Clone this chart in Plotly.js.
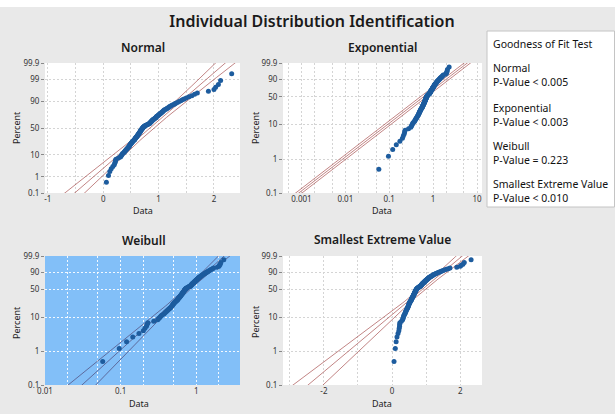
<!DOCTYPE html>
<html><head><meta charset="utf-8">
<script src="https://cdn.plot.ly/plotly-3.0.1.min.js"></script>
<style>html,body{margin:0;padding:0;background:#fff}#chart{width:615px;height:414px}</style>
</head><body><div id="chart"></div>
<script>
// ---- data (sorted sample) ----
const sampleData = [
 0.058,0.096,0.12,0.145,0.175,0.20,0.21,0.22,0.225,0.23,
 0.275,0.31,0.32,0.33,0.34,0.35,0.37,0.38,0.39,0.40,
 0.41,0.42,0.43,0.44,0.45,0.46,0.465,
 0.475,0.48,0.485,0.49,0.50,0.505,0.51,0.52,0.525,0.53,0.54,0.55,0.56,
 0.565,0.57,0.575,0.58,0.585,0.59,0.60,0.605,0.61,0.615,0.62,
 0.625,0.63,0.635,0.64,0.645,0.65,0.655,0.66,0.665,0.67,0.672,0.676,0.68,
 0.685,0.69,0.695,0.70,0.705,0.71,0.715,0.72,0.725,0.732,0.74,
 0.75,0.76,0.775,0.79,0.80,0.815,0.83,
 0.84,0.845,0.85,0.86,0.865,0.87,0.88,0.885,0.89,0.90,0.91,0.92,
 0.93,0.94,0.95,0.955,0.96,0.97,0.98,0.99,1.0,1.01,
 1.02,1.03,1.04,1.05,1.06,1.07,1.08,1.09,1.10,
 1.12,1.14,1.15,1.17,1.19,1.20,1.22,
 1.24,1.27,1.29,1.31,1.34,
 1.37,1.40,1.43,1.46,
 1.50,1.55,1.60,1.65,1.70,
 1.90,2.0,2.03,2.08,2.12,2.32
];
const percentTicksNormal = [0.1,1,10,50,90,99,99.9];
const percentTicksOther  = [0.1,1,10,50,90,99.9];
const normalTickX = [-1,0,1,2];
const expTickX = [0.001,0.01,0.1,1,10];
const weibullTickX = [0.01,0.1,1];
const sevTickX = [-2,0,2];
// fitted parameters
const normalFit = {mu:0.845, sigma:0.44};
const expFit = {theta:0.87};
const weibullFit = {shape:2.04, scale:0.91};
const sevFit = {loc:1.07, scale:0.512};
const plotTitles = ['Normal','Exponential','Weibull','Smallest Extreme Value'];
const gofHeader = 'Goodness of Fit Test';
const gofNames = ['Normal','Exponential','Weibull','Smallest Extreme Value'];
const gofPValues = ['P-Value < 0.005','P-Value < 0.003','P-Value = 0.223','P-Value < 0.010'];
const mainTitle = 'Individual Distribution Identification';

// ---- scale transforms ----
function qnorm(p){
 const a=[-3.969683028665376e+01,2.209460984245205e+02,-2.759285104469687e+02,1.383577518672690e+02,-3.066479806614716e+01,2.506628277459239e+00];
 const b=[-5.447609879822406e+01,1.615858368580409e+02,-1.556989798598866e+02,6.680131188771972e+01,-1.328068155288572e+01];
 const c=[-7.784894002430293e-03,-3.223964580411365e-01,-2.400758277161838e+00,-2.549732539343734e+00,4.374664141464968e+00,2.938163982698783e+00];
 const d=[7.784695709041462e-03,3.224671290700398e-01,2.445134137142996e+00,3.754408661907416e+00];
 const pl=0.02425, ph=1-pl; let q,r;
 if(p<pl){q=Math.sqrt(-2*Math.log(p));return (((((c[0]*q+c[1])*q+c[2])*q+c[3])*q+c[4])*q+c[5])/((((d[0]*q+d[1])*q+d[2])*q+d[3])*q+1);}
 if(p>ph){q=Math.sqrt(-2*Math.log(1-p));return -(((((c[0]*q+c[1])*q+c[2])*q+c[3])*q+c[4])*q+c[5])/((((d[0]*q+d[1])*q+d[2])*q+d[3])*q+1);}
 q=p-0.5;r=q*q;return (((((a[0]*r+a[1])*r+a[2])*r+a[3])*r+a[4])*r+a[5])*q/(((((b[0]*r+b[1])*r+b[2])*r+b[3])*r+b[4])*r+1);
}
const wq = p => Math.log(-Math.log(1-p));

const n = sampleData.length;
const pos = sampleData.map((v,i)=>(i+1-0.3)/(n+0.4));
const yNorm = pos.map(qnorm);
const yW = pos.map(wq);

const W=615,H=414;
const px = v=>v/W, py = v=>1-v/H;
const FONT = 'Noto Sans, Open Sans, sans-serif';
const lineCol = '#a85050', lineColW = '#4e4676';
const markerCol = '#1d5c9e';

const zs=[], ws=[];
for(let z=-3.5; z<=3.5001; z+=0.1) zs.push(z);
for(let y=-7.4; y<=2.4001; y+=0.1) ws.push(y);

const traces=[];
function addLines(xs3, ys, xa, ya, col){
 xs3.forEach(xs=>traces.push({x:xs,y:ys,xaxis:xa,yaxis:ya,mode:'lines',type:'scatter',line:{color:col,width:0.7},hoverinfo:'skip'}));
}
// Normal
{
 const {mu,sigma}=normalFit;
 const fit=zs.map(z=>mu+sigma*z);
 const hw=zs.map(z=>1.96*sigma*Math.sqrt(1/n+z*z/(2*n)));
 addLines([fit, fit.map((v,i)=>v-hw[i]), fit.map((v,i)=>v+hw[i])], zs,'x','y',lineCol);
 traces.push({x:sampleData,y:yNorm,xaxis:'x',yaxis:'y',mode:'markers',type:'scatter',marker:{color:markerCol,size:5}});
}
// Exponential
{
 const {theta}=expFit; const h=1.96/Math.sqrt(n);
 const lf=ws.map(y=>Math.log(theta)+y);
 addLines([lf.map(Math.exp), lf.map(v=>Math.exp(v-h)), lf.map(v=>Math.exp(v+h))], ws,'x2','y2',lineCol);
 traces.push({x:sampleData,y:yW,xaxis:'x2',yaxis:'y2',mode:'markers',type:'scatter',marker:{color:markerCol,size:5}});
}
// Weibull
{
 const bb=1/weibullFit.shape, u=Math.log(weibullFit.scale);
 const lf=ws.map(y=>u+bb*y);
 const hw=ws.map(y=>1.96*bb/Math.sqrt(n)*Math.sqrt(1.1087+2*0.2570*y+0.6079*y*y));
 addLines([lf.map(Math.exp), lf.map((v,i)=>Math.exp(v-hw[i])), lf.map((v,i)=>Math.exp(v+hw[i]))], ws,'x3','y3',lineColW);
 traces.push({x:sampleData,y:yW,xaxis:'x3',yaxis:'y3',mode:'markers',type:'scatter',marker:{color:markerCol,size:5}});
}
// SEV
{
 const {loc,scale}=sevFit;
 const fit=ws.map(y=>loc+scale*y);
 const hw=ws.map(y=>1.96*scale/Math.sqrt(n)*Math.sqrt(1.1087+2*0.2570*y+0.6079*y*y));
 addLines([fit, fit.map((v,i)=>v-hw[i]), fit.map((v,i)=>v+hw[i])], ws,'x4','y4',lineCol);
 traces.push({x:sampleData,y:yW,xaxis:'x4',yaxis:'y4',mode:'markers',type:'scatter',marker:{color:markerCol,size:5}});
}

const tickFont={family:FONT,size:8,color:'#333'};
const gridCol='#d4d4d4', gridW='rgba(255,255,255,0.9)';
const DASH='2px,2px';
function yax(dom, ticks, f, anchor, grid){
 const inner=ticks.filter(t=>t>0.1&&t<99.9);
 return {domain:dom, anchor:anchor, range:[f(0.001),f(0.999)], tickmode:'array',
  tickvals:ticks.map(t=>f(t/100)), ticktext:ticks.map(String), tickfont:tickFont,
  ticks:'outside', ticklen:3, tickcolor:'#888', showgrid:false,
  minor:{tickmode:'array',tickvals:inner.map(t=>f(t/100)),showgrid:true,gridcolor:grid||gridCol,griddash:DASH,gridwidth:1,ticks:''},
  zeroline:false, showline:false, fixedrange:true};
}
function xax(dom, anchor, opts){
 return Object.assign({domain:dom, anchor:anchor, tickfont:tickFont, ticks:'', ticklen:0,
  showgrid:true, gridcolor:gridCol, griddash:DASH, zeroline:false, showline:false, fixedrange:true}, opts);
}
const dX1=[px(45),px(240)], dX2=[px(283),px(482)];
const dY1=[py(193),py(63)], dY2=[py(385),py(256)];
const minorLog=(lo,hi)=>{const v=[];for(let e=lo;e<=hi;e++){v.push(2*Math.pow(10,e),5*Math.pow(10,e));}return v;};

const layout={
 width:W,height:H,margin:{l:0,r:0,t:0,b:0},
 paper_bgcolor:'#e9e9e9', plot_bgcolor:'#ffffff', showlegend:false,
 font:{family:FONT,color:'#222'},
 title:{text:mainTitle, x:px(312), y:py(21), xref:'paper', yref:'paper', xanchor:'center', yanchor:'middle',
  font:{family:FONT,size:16,weight:600,color:'#1a1a1a'}},
 xaxis: xax(dX1,'y',{range:[-1.05,2.47],tickmode:'array',tickvals:normalTickX,ticktext:normalTickX.map(String),
   minor:{dtick:0.5,tick0:0,showgrid:true,gridcolor:gridCol,griddash:DASH,ticks:''}}),
 yaxis: yax(dY1,percentTicksNormal,qnorm,'x'),
 xaxis2: xax(dX2,'y2',{type:'log',range:[Math.log10(0.00038),Math.log10(13)],tickmode:'array',tickvals:expTickX,ticktext:expTickX.map(String),
   minor:{tickmode:'array',tickvals:minorLog(-4,1),showgrid:true,gridcolor:gridCol,griddash:DASH,ticks:''}}),
 yaxis2: yax(dY1,percentTicksOther,wq,'x2'),
 xaxis3: xax(dX1,'y3',{type:'log',range:[-2,0.58],tickmode:'array',tickvals:weibullTickX,ticktext:weibullTickX.map(String),
   gridcolor:gridW,
   minor:{tickmode:'array',tickvals:minorLog(-2,0),showgrid:true,gridcolor:gridW,griddash:DASH,ticks:''}}),
 yaxis3: yax(dY2,percentTicksOther,wq,'x3',gridW),
 xaxis4: xax(dX2,'y4',{range:[-3.2,2.64],tickmode:'array',tickvals:sevTickX,ticktext:sevTickX.map(String),
   minor:{dtick:1,tick0:0,showgrid:true,gridcolor:gridCol,griddash:DASH,ticks:''}}),
 yaxis4: yax(dY2,percentTicksOther,wq,'x4'),
 shapes:[
  {type:'rect',xref:'paper',yref:'paper',x0:0,x1:1,y0:py(7),y1:1,fillcolor:'#ffffff',line:{width:0},layer:'above'},
  {type:'rect',xref:'x3 domain',yref:'y3 domain',x0:0,x1:1,y0:0,y1:1,fillcolor:'#82bff8',line:{width:0},layer:'below'},
  {type:'rect',xref:'paper',yref:'paper',x0:px(487),x1:px(614.5),y0:py(207),y1:py(31),fillcolor:'#ffffff',line:{color:'#c4c4c4',width:1},layer:'above'}
 ],
 annotations:[]
};
const A=layout.annotations;
const subTitlePos=[[143,47],[382,47],[144,240],[382,239]];
plotTitles.forEach((t,i)=>A.push({text:t,xref:'paper',yref:'paper',x:px(subTitlePos[i][0]),y:py(subTitlePos[i][1]),
 xanchor:'center',yanchor:'middle',showarrow:false,font:{family:FONT,size:12,weight:600,color:'#1a1a1a'}}));
const pctPos=[[16,128],[255,128],[16,323],[255,322]];
pctPos.forEach(p=>A.push({text:'Percent',textangle:-90,xref:'paper',yref:'paper',x:px(p[0]),y:py(p[1]),
 xanchor:'center',yanchor:'middle',showarrow:false,font:{family:FONT,size:9,color:'#222'}}));
const dataPos=[[143,210],[382,210],[139,403],[382,403]];
dataPos.forEach(p=>A.push({text:'Data',xref:'paper',yref:'paper',x:px(p[0]),y:py(p[1]),
 xanchor:'center',yanchor:'middle',showarrow:false,font:{family:FONT,size:9,color:'#222'}}));
const gofBlockY=[75,115,153,191];
const gofFont={family:FONT,size:10.5,color:'#111'};
A.push({text:gofHeader,xref:'paper',yref:'paper',x:px(492),y:py(44),xanchor:'left',yanchor:'middle',showarrow:false,borderpad:0,font:gofFont});
gofNames.forEach((nm,i)=>{
 A.push({text:nm+'<br>'+gofPValues[i],align:'left',xref:'paper',yref:'paper',x:px(492),y:py(gofBlockY[i]),
  xanchor:'left',yanchor:'middle',showarrow:false,borderpad:0,font:gofFont});
});
Plotly.newPlot('chart',traces,layout,{staticPlot:true,displayModeBar:false});
</script></body></html>
